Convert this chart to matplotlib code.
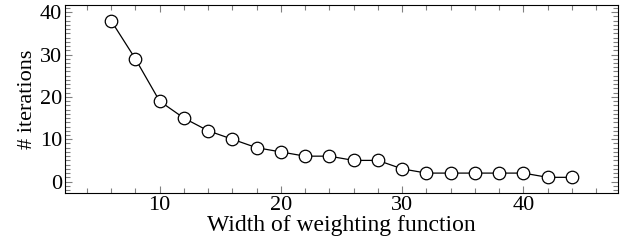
import matplotlib.pyplot as plt
from matplotlib.ticker import MultipleLocator

width = [6, 8, 10, 12, 14, 16, 18, 20, 22, 24, 26, 28, 30, 32, 34, 36, 38, 40, 42, 44]
iterations = [38, 29, 19, 15, 12, 10, 8, 7, 6, 6, 5, 5, 3, 2, 2, 2, 2, 2, 1, 1]

plt.rcParams['font.family'] = ['Liberation Serif', 'DejaVu Serif']

fig = plt.figure(figsize=(6.28, 2.47), dpi=100)
ax = fig.add_axes([65 / 628, 1 - 193 / 247, (618 - 65) / 628, (193 - 5) / 247])
ax.plot(width, iterations, color='black', linewidth=0.9, marker='o', markersize=9,
        markerfacecolor='white', markeredgecolor='black', markeredgewidth=0.9)

ax.set_xlim(2.2, 47.8)
ax.set_ylim(-2.7, 41.7)
ax.xaxis.set_major_locator(MultipleLocator(10))
ax.xaxis.set_minor_locator(MultipleLocator(2))
ax.yaxis.set_major_locator(MultipleLocator(10))
ax.yaxis.set_minor_locator(MultipleLocator(1))
ax.tick_params(which='both', direction='in', top=True, right=True, colors='#808080',
               labelcolor='black', labelsize=16, pad=2)
ax.tick_params(which='major', length=5, width=0.8)
ax.tick_params(which='minor', length=3.5, width=0.8)
for s in ax.spines.values():
    s.set_linewidth(0.8)

ax.set_xlabel("Width of weighting function", fontsize=17, labelpad=0)
ax.set_ylabel("# iterations", fontsize=16, labelpad=2)

fig.savefig("out.png", dpi=100)
